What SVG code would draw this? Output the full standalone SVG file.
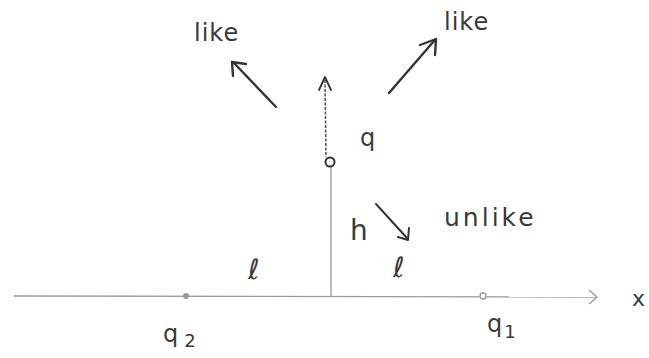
<svg xmlns="http://www.w3.org/2000/svg" width="649" height="358" viewBox="0 0 649 358">
<style>
.t{font-family:"DejaVu Sans","Liberation Sans",sans-serif;fill:#3a3a3a;font-weight:normal}
.ax{stroke:#9a9a9a;stroke-width:1.3;fill:none}
.ar{stroke:#333;stroke-width:2.4;fill:none;stroke-linecap:round;stroke-linejoin:round}
</style>
<rect width="649" height="358" fill="#fff"/>
<g id="connectors">
  <line class="ax" x1="14" y1="296" x2="596" y2="297"/>
  <polyline class="ax" points="589,290 597,297 589,304"/>
  <line class="ax" x1="331" y1="166" x2="331" y2="296"/>
  <line x1="325" y1="80" x2="326" y2="157" stroke="#555" stroke-width="1.6" stroke-dasharray="3 1.5"/>
  <polyline class="ar" style="stroke-width:1.8" points="319,90 325,77 331,90"/>
  <line class="ar" x1="276" y1="107" x2="234" y2="63"/>
  <polyline class="ar" points="233,76 232,62 246,64"/>
  <line class="ar" x1="389" y1="93" x2="434" y2="41"/>
  <polyline class="ar" points="420,45 436,39 435,55"/>
  <line class="ar" style="stroke-width:2" x1="376" y1="204" x2="407" y2="238"/>
  <polyline class="ar" style="stroke-width:2" points="398,237 408,240 409,228"/>
</g>
<g id="q">
  <circle cx="330" cy="162" r="4.5" fill="#fff" stroke="#333" stroke-width="2"/>
  <text class="t" x="360" y="146" font-size="24">q</text>
</g>
<g id="q2">
  <circle cx="186" cy="296" r="3" fill="#999"/>
  <text class="t" x="163" y="342" font-size="24">q<tspan font-size="18" dx="6" dy="5">2</tspan></text>
</g>
<g id="q1">
  <circle cx="483" cy="296" r="3" fill="#fff" stroke="#999" stroke-width="1.3"/>
  <text class="t" x="487" y="332" font-size="24">q<tspan font-size="18" dx="2" dy="6">1</tspan></text>
</g>
<g id="labels">
  <text class="t" x="194" y="41" font-size="24" letter-spacing="1">like</text>
  <text class="t" x="444" y="30" font-size="24" letter-spacing="1">like</text>
  <text class="t" x="350" y="240" font-size="28">h</text>
  <text class="t" x="444" y="226" font-size="25" letter-spacing="3">unlike</text>
  <text class="t" x="248" y="279" font-size="28">ℓ</text>
  <text class="t" x="393" y="277" font-size="28">ℓ</text>
  <text class="t" x="632" y="306" font-size="22">x</text>
</g>
</svg>
